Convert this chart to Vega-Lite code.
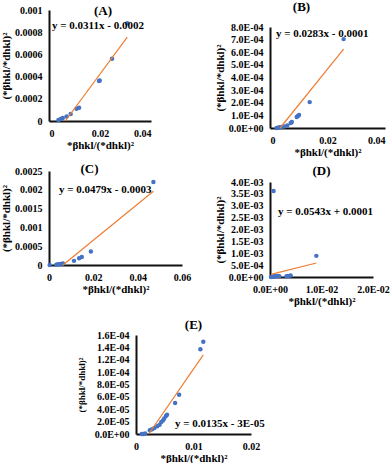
{
  "$schema": "https://vega.github.io/schema/vega-lite/v6.json",
  "padding": 0,
  "background": "white",
  "datasets": {
    "A_pts": [{"x":0.0037,"y":0.00001},{"x":0.0046,"y":0.000018},{"x":0.0054,"y":0.000027},{"x":0.0069,"y":0.00004},{"x":0.0085,"y":0.000063},{"x":0.0108,"y":0.00011},{"x":0.0118,"y":0.00012},{"x":0.0196,"y":0.00036},{"x":0.0199,"y":0.000365},{"x":0.0247,"y":0.00056},{"x":0.0307,"y":0.00088}],
    "A_fit": [{"x":0.0064,"y":0},{"x":0.0307,"y":0.000755}],
    "B_pts": [{"x":0.0023,"y":0.0},{"x":0.0029,"y":0.000003},{"x":0.0033,"y":0.000006},{"x":0.004,"y":0.000009},{"x":0.0049,"y":0.000012},{"x":0.006,"y":0.00002},{"x":0.0072,"y":0.00004},{"x":0.0076,"y":0.000047},{"x":0.0093,"y":0.000087},{"x":0.0097,"y":0.000095},{"x":0.0101,"y":0.000103},{"x":0.0138,"y":0.000205},{"x":0.0256,"y":0.000704}],
    "B_fit": [{"x":0.0035,"y":0},{"x":0.0256,"y":0.000624}],
    "C_pts": [{"x":0.0003,"y":0},{"x":0.0033,"y":0.00001},{"x":0.0041,"y":0.00002},{"x":0.0048,"y":0.00002},{"x":0.0056,"y":0.00003},{"x":0.0063,"y":0.00004},{"x":0.0113,"y":0.00011},{"x":0.0136,"y":0.00018},{"x":0.0148,"y":0.00021},{"x":0.0189,"y":0.00036},{"x":0.0471,"y":0.00221}],
    "C_fit": [{"x":0.0063,"y":0},{"x":0.0471,"y":0.00196}],
    "D_pts": [{"x":0.0007,"y":0.00362},{"x":0.0002,"y":0},{"x":0.0005,"y":0.00001},{"x":0.0008,"y":0.00003},{"x":0.0011,"y":0.00003},{"x":0.0015,"y":0.00004},{"x":0.0018,"y":0.00003},{"x":0.0032,"y":0.00003},{"x":0.0035,"y":0.00004},{"x":0.004,"y":0.00006},{"x":0.009,"y":0.00089}],
    "D_fit": [{"x":0.0002,"y":0.00011},{"x":0.009,"y":0.00059}],
    "E_pts": [{"x":0.001,"y":0},{"x":0.0013,"y":0},{"x":0.0016,"y":0.000001},{"x":0.0024,"y":0.000006},{"x":0.0028,"y":0.0000076},{"x":0.0032,"y":0.0000097},{"x":0.0037,"y":0.0000124},{"x":0.0041,"y":0.000015},{"x":0.0044,"y":0.0000194},{"x":0.0047,"y":0.000022},{"x":0.0049,"y":0.000025},{"x":0.0052,"y":0.000029},{"x":0.0054,"y":0.000031},{"x":0.0068,"y":0.00005},{"x":0.0075,"y":0.0000635},{"x":0.0112,"y":0.000137},{"x":0.0117,"y":0.000149}],
    "E_fit": [{"x":0.0022,"y":0},{"x":0.0117,"y":0.000128}]
  },
  "config": {
    "view": {"stroke": null},
    "font": "Liberation Serif",
    "axis": {"grid": false, "ticks": false, "domainColor": "#111111", "domainWidth": 2, "labelFont": "Liberation Serif", "labelFontWeight": "bold", "labelFontSize": 10, "labelColor": "#000000", "titleFont": "Liberation Serif", "titleFontWeight": "bold", "titleFontSize": 11, "titleColor": "#000000", "labelPadding": 7},
    "axisX": {"titlePadding": 1, "labelFlush": false},
    "axisY": {"titlePadding": 3},
    "title": {"font": "Liberation Serif", "fontSize": 13, "fontWeight": "bold", "color": "#000000", "frame": "group"},
    "text": {"font": "Liberation Serif", "fontWeight": "bold", "fontSize": 11, "align": "left", "baseline": "middle", "color": "#000000"},
    "circle": {"size": 20, "color": "#4472C4", "opacity": 1},
    "line": {"color": "#ED7D31", "strokeWidth": 1.2}
  },
  "spacing": 13,
  "vconcat": [
    {
      "spacing": 23,
      "hconcat": [
        {
          "spacing": 12,
          "vconcat": [
            {
              "width": 102, "height": 111,
              "title": {"text": "(A)", "offset": -13, "dx": 3},
              "encoding": {
                "x": {"field": "x", "type": "quantitative", "scale": {"domain": [0, 0.04]}, "axis": {"values": [0, 0.02, 0.04], "format": "~g", "labelFlush": true, "title": "*βhkl/(*dhkl)²"}},
                "y": {"field": "y", "type": "quantitative", "scale": {"domain": [0, 0.001]}, "axis": {"values": [0, 0.0002, 0.0004, 0.0006, 0.0008, 0.001], "format": "~g", "title": "(*βhkl/*dhkl)²"}}
              },
              "layer": [
                {"data": {"name": "A_pts"}, "mark": "circle"},
                {"data": {"name": "A_fit"}, "mark": "line"},
                {"data": {"values": [{"x": 0.0012, "y": 0.00086, "t": "y = 0.0311x - 0.0002"}]}, "mark": "text", "encoding": {"text": {"field": "t"}}}
              ]
            },
            {
              "width": 133, "height": 94,
              "title": {"text": "(C)", "offset": -9.5, "dx": -26},
              "encoding": {
                "x": {"field": "x", "type": "quantitative", "scale": {"domain": [0, 0.06]}, "axis": {"values": [0, 0.02, 0.04, 0.06], "format": "~g", "title": "*βhkl/(*dhkl)²"}},
                "y": {"field": "y", "type": "quantitative", "scale": {"domain": [0, 0.0025]}, "axis": {"values": [0, 0.0005, 0.001, 0.0015, 0.002, 0.0025], "format": "~g", "title": "(*βhkl/*dhkl)²"}}
              },
              "layer": [
                {"data": {"name": "C_pts"}, "mark": "circle"},
                {"data": {"name": "C_fit"}, "mark": "line"},
                {"data": {"values": [{"x": 0.0045, "y": 0.002, "t": "y = 0.0479x - 0.0003"}]}, "mark": "text", "encoding": {"text": {"field": "t"}}}
              ]
            }
          ]
        },
        {
          "spacing": 8,
          "vconcat": [
            {
              "width": 115, "height": 1,
              "title": {"text": "(B)", "offset": -6, "dx": -26},
              "data": {"values": [{"a": 0}]},
              "mark": {"type": "point", "opacity": 0},
              "encoding": {}
            },
            {
              "width": 115, "height": 101,
              "encoding": {
                "x": {"field": "x", "type": "quantitative", "scale": {"domain": [0, 0.04]}, "axis": {"values": [0, 0.02, 0.04], "format": "~g", "labelFlush": true, "title": "*βhkl/(*dhkl)²"}},
                "y": {"field": "y", "type": "quantitative", "scale": {"domain": [0, 0.0008]}, "axis": {"values": [0, 0.0001, 0.0002, 0.0003, 0.0004, 0.0005, 0.0006, 0.0007, 0.0008], "labelExpr": "upper(slice(format(datum.value,'.1e'),0,-1)) + '0' + slice(format(datum.value,'.1e'),-1)", "title": "(*βhkl/*dhkl)²"}}
              },
              "layer": [
                {"data": {"name": "B_pts"}, "mark": "circle"},
                {"data": {"name": "B_fit"}, "mark": "line"},
                {"data": {"values": [{"x": 0.0021, "y": 0.000745, "t": "y = 0.0283x - 0.0001"}]}, "mark": "text", "encoding": {"text": {"field": "t"}}}
              ]
            },
            {
              "width": 103, "height": 95,
              "title": {"text": "(D)", "offset": -1, "dx": 0},
              "encoding": {
                "x": {"field": "x", "type": "quantitative", "scale": {"domain": [0, 0.02]}, "axis": {"values": [0, 0.01, 0.02], "labelExpr": "upper(slice(format(datum.value,'.1e'),0,-1)) + '0' + slice(format(datum.value,'.1e'),-1)", "title": "*βhkl/(*dhkl)²"}},
                "y": {"field": "y", "type": "quantitative", "scale": {"domain": [0, 0.004]}, "axis": {"values": [0, 0.0005, 0.001, 0.0015, 0.002, 0.0025, 0.003, 0.0035, 0.004], "labelExpr": "upper(slice(format(datum.value,'.1e'),0,-1)) + '0' + slice(format(datum.value,'.1e'),-1)", "title": "(*βhkl/*dhkl)²"}}
              },
              "layer": [
                {"data": {"name": "D_pts"}, "mark": "circle"},
                {"data": {"name": "D_fit"}, "mark": "line"},
                {"data": {"values": [{"x": 0.00155, "y": 0.00274, "t": "y = 0.0543x + 0.0001"}]}, "mark": "text", "encoding": {"text": {"field": "t"}}}
              ]
            }
          ]
        }
      ]
    },
    {
      "spacing": 0,
      "hconcat": [
        {
          "width": 28, "height": 1,
          "data": {"values": [{"a": 0}]},
          "mark": {"type": "point", "opacity": 0},
          "encoding": {}
        },
        {
          "width": 115, "height": 99,
          "title": {"text": "(E)", "offset": -2},
          "encoding": {
            "x": {"field": "x", "type": "quantitative", "scale": {"domain": [0, 0.02]}, "axis": {"values": [0, 0.01, 0.02], "format": "~g", "title": "*βhkl/(*dhkl)²"}},
            "y": {"field": "y", "type": "quantitative", "scale": {"domain": [0, 0.00016]}, "axis": {"values": [0, 0.00002, 0.00004, 0.00006, 0.00008, 0.0001, 0.00012, 0.00014, 0.00016], "labelExpr": "upper(slice(format(datum.value,'.1e'),0,-1)) + '0' + slice(format(datum.value,'.1e'),-1)", "title": "(*βhkl/*dhkl)²", "titleFontSize": 9, "titlePadding": 8}}
          },
          "layer": [
            {"data": {"name": "E_pts"}, "mark": "circle"},
            {"data": {"name": "E_fit"}, "mark": "line"},
            {"data": {"values": [{"x": 0.0068, "y": 0.000016, "t": "y = 0.0135x - 3E-05"}]}, "mark": "text", "encoding": {"text": {"field": "t"}}}
          ]
        }
      ]
    }
  ]
}
